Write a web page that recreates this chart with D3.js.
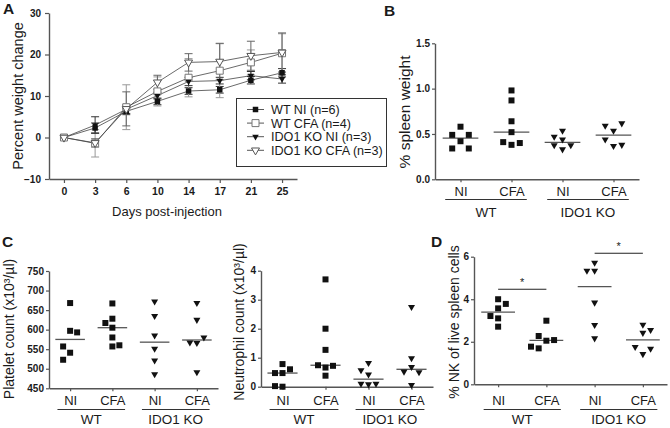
<!DOCTYPE html>
<html><head><meta charset="utf-8">
<script src="https://cdn.jsdelivr.net/npm/d3@7"></script>
<style>
body{margin:0;background:#fff}
svg{display:block}
text{font-family:"Liberation Sans",Arial,Helvetica,sans-serif;fill:#1a1a1a}
</style>
</head><body>
<svg id="c" width="670" height="428"></svg>
<script>
// ================= DATA =================
// Panel A: percent weight change
const days = ["0","3","6","10","14","17","21","25"];
const aTicks = [-10, 0, 10, 20, 30];
const seriesNames = ["WT NI (n=6)", "WT CFA (n=4)", "IDO1 KO NI (n=3)", "IDO1 KO CFA (n=3)"];
const wtNI   = [0, 2.3, 6.3, 8.7, 11.2, 11.5, 13.8, 15.6];
const wtCFA  = [0, -1.4, 7.3, 11.1, 14.4, 16.1, 18.1, 20.3];
const koNI   = [0, 3.0, 6.8, 10.1, 13.5, 13.7, 14.9, 14.1];
const koCFA  = [0, -1.3, 6.9, 13.3, 18.1, 18.3, 19.7, 20.5];
const wtNIerr  = [0, 1.2, 0.8, 0.8, 0.8, 0.8, 0.9, 1.0];
const wtCFAerr = [0, 3.3, 5.4, 3.5, 4.6, 6.5, 3.0, 4.7];
const koNIerr  = [0, 2.0, 1.0, 0.8, 1.0, 0.8, 1.0, 1.0];
const koCFAerr = [0, 1.0, 4.1, 1.7, 2.1, 4.4, 3.5, 4.7];

// Categories for scatter panels
const subLabels = ["NI", "CFA", "NI", "CFA"];
const groupLabels = ["WT", "IDO1 KO"];

// Panel B: % spleen weight
const bTicks = [0, 0.5, 1.0, 1.5];
const spleenWtNI  = [0.58, 0.42, 0.49, 0.49, 0.34, 0.34];
const spleenWtCFA = [0.98, 0.87, 0.64, 0.52, 0.38, 0.41, 0.40];
const spleenKoNI  = [0.536, 0.44, 0.33, 0.47, 0.375, 0.375];
const spleenKoCFA = [0.536, 0.367, 0.59, 0.617, 0.44, 0.38];

// Panel C (left): platelet count
const pTicks = [450, 500, 550, 600, 650, 700, 750];
const pltWtNI  = [668, 597, 541, 523, 593, 557];
const pltWtCFA = [667, 628, 580, 557, 605, 617, 560];
const pltKoNI  = [672, 635, 585, 551, 521, 486];
const pltKoCFA = [668, 625, 566, 491, 567, 580];

// Panel C (right): neutrophil count
const nTicks = [0, 1, 2, 3, 4];
const neuWtNI  = [0.78, 0.47, 0.47, 0.60, 0.0, 0.02];
const neuWtCFA = [3.7, 2.0, 1.27, 0.66, 0.74, 0.72, 0.38];
const neuKoNI  = [0.82, 0.57, 0.42, 0.08, 0.10, 0.10];
const neuKoCFA = [2.75, 0.98, 0.68, 0.06, 0.52, 0.50];

// Panel D: % NK of live spleen cells
const dTicks = [0, 2, 4, 6];
const nkWtNI  = [4.0, 3.57, 3.1, 2.71, 3.21, 3.78];
const nkWtCFA = [2.99, 2.05, 1.69, 2.08, 2.27, 1.77];
const nkKoNI  = [5.72, 5.34, 5.34, 3.84, 2.79, 2.16];
const nkKoCFA = [2.8, 2.42, 1.42, 1.75, 2.55, 1.67];
const nkSig = [{a: 0, b: 1, v: 4.47, label: "*"}, {a: 2, b: 3, v: 6.16, label: "*"}];

// ================= DRAWING =================
const svg = d3.select("#c");
const AX = "#555";

function styleAxis(sel){
  sel.select(".domain").attr("stroke", AX).attr("stroke-width", 1.4);
  sel.selectAll(".tick line").attr("stroke", AX).attr("stroke-width", 1.2);
  sel.selectAll(".tick text").style("font-size", "10px").style("font-weight", "bold")
     .style("font-family", "'Liberation Sans',Arial,sans-serif").attr("fill", "#1a1a1a");
}
function label(text, x, y, size, opts={}){
  const t = svg.append("text").attr("x", x).attr("y", y).style("font-size", size + "px")
    .attr("text-anchor", opts.anchor || "start").text(text);
  if (opts.bold) t.style("font-weight", "bold");
  return t;
}
function yLabel(text, cx, cy, size){
  svg.append("text").attr("transform", `translate(${cx},${cy}) rotate(-90)`)
    .attr("text-anchor", "middle").attr("dy", "0.35em").style("font-size", size + "px").text(text);
}
function symPath(kind, size){
  if (kind === "square") return d3.symbol(d3.symbolSquare, size * size)();
  return d3.symbol(d3.symbolTriangle, Math.sqrt(3) / 4 * size * size)();
}
function drawMarker(g, kind, cx, cy, size, fill, stroke, sw){
  const p = g.append("path").attr("d", symPath(kind, size))
    .attr("fill", fill).attr("stroke", stroke || "none").attr("stroke-width", sw || 0);
  p.attr("transform", kind === "square" ? `translate(${cx},${cy})` : `translate(${cx},${cy}) rotate(180)`);
  return p;
}
// greedy column-scatter arrangement (Prism-like)
function swarm(vals, y, thr){
  const placed = [], count = {};
  return vals.map(v => {
    const py = y(v);
    const free = s => placed.every(p => p.s !== s || Math.abs(p.py - py) >= thr);
    const cands = [0];
    for (let k = 1; k <= 3; k++){
      if ((count[k] || 0) < (count[-k] || 0)) cands.push(k, -k); else cands.push(-k, k);
    }
    const s = cands.find(free) ?? 0;
    placed.push({s, py}); count[s] = (count[s] || 0) + 1;
    return s;
  });
}

// ---------- Panel A ----------
(function(){
  const g = svg.append("g");
  const x = d3.scalePoint().domain(days).range([49, 297]).padding(0.48);
  const y = d3.scaleLinear().domain([-10, 30]).range([179, 13]);
  const ya = g.append("g").attr("transform", "translate(49,0)")
    .call(d3.axisLeft(y).tickValues(aTicks).tickSize(4).tickSizeOuter(0));
  styleAxis(ya);
  ya.selectAll(".tick text").attr("x", -8);
  const xa = g.append("g").attr("transform", "translate(0,179)")
    .call(d3.axisBottom(x).tickSize(4).tickSizeOuter(0));
  styleAxis(xa);
  xa.selectAll(".tick text").attr("y", 9).style("font-size", "10.5px");
  label("Days post-injection", 167, 216, 13, {anchor: "middle"});
  yLabel("Percent weight change", 18, 96, 14.5);
  label("A", 3, 14, 15.5, {bold: true});

  const series = [
    {v: wtNI,  e: wtNIerr,  kind: "square",   size: 5.5, fill: "#111", stroke: "#111", sw: 0, ec: "#333"},
    {v: wtCFA, e: wtCFAerr, kind: "square",   size: 7,   fill: "#fff", stroke: "#777", sw: 1, ec: "#999"},
    {v: koNI,  e: koNIerr,  kind: "triangle", size: 6.5, fill: "#111", stroke: "#111", sw: 0, ec: "#333"},
    {v: koCFA, e: koCFAerr, kind: "triangle", size: 8,   fill: "#fff", stroke: "#555", sw: 1, ec: "#666"}
  ];
  const line = d3.line().x((d, i) => x(days[i])).y(d => y(d));
  series.forEach(s => {
    g.append("path").attr("d", line(s.v)).attr("fill", "none").attr("stroke", "#444").attr("stroke-width", 0.8);
  });
  series.forEach(s => {
    s.v.forEach((v, i) => {
      if (!s.e[i]) return;
      const cx = x(days[i]);
      const y1 = y(v + s.e[i]), y0 = y(v - s.e[i]);
      g.append("line").attr("x1", cx).attr("x2", cx).attr("y1", y0).attr("y2", y1).attr("stroke", s.ec).attr("stroke-width", 1);
      [y0, y1].forEach(yy => g.append("line").attr("x1", cx - 4).attr("x2", cx + 4).attr("y1", yy).attr("y2", yy).attr("stroke", s.ec).attr("stroke-width", 1));
    });
  });
  series.forEach(s => {
    s.v.forEach((v, i) => drawMarker(g, s.kind, x(days[i]), y(v), s.size, s.fill, s.stroke, s.sw));
  });
  // legend
  g.append("rect").attr("x", 236.5).attr("y", 98.5).attr("width", 150).attr("height", 68)
    .attr("fill", "#fff").attr("stroke", "#333").attr("stroke-width", 1);
  series.forEach((s, i) => {
    const ly = 109.5 + i * 13.6;
    g.append("line").attr("x1", 247).attr("x2", 264).attr("y1", ly).attr("y2", ly).attr("stroke", "#444").attr("stroke-width", 0.9);
    drawMarker(g, s.kind, 255.5, ly, s.size, s.fill, s.stroke, s.sw);
    label(seriesNames[i], 271, ly + 4.4, 12.6);
  });
})();

// ---------- Scatter panels ----------
function scatter(o){
  const g = svg.append("g");
  const y = d3.scaleLinear().domain(o.domain).range([o.yB, o.yT]);
  const x = d3.scalePoint().domain(subLabels.map((d, i) => i)).range([o.x0, o.x1]).padding(0.5);
  const step = x.step();
  const ya = g.append("g").attr("transform", `translate(${o.x0},0)`)
    .call(d3.axisLeft(y).tickValues(o.ticks).tickFormat(o.fmt).tickSize(3).tickSizeOuter(0));
  styleAxis(ya);
  ya.selectAll(".tick text").attr("x", -5);
  const xa = g.append("g").attr("transform", `translate(0,${o.yB})`)
    .call(d3.axisBottom(x).tickSize(3).tickSizeOuter(0).tickFormat(i => subLabels[i]));
  styleAxis(xa);
  xa.selectAll(".tick text").attr("y", o.subY - o.yB).attr("dy", 0)
    .style("font-size", "13px").style("font-weight", "normal");
  groupLabels.forEach((gl, k) => {
    const c = (x(2 * k) + x(2 * k + 1)) / 2, hw = step * 0.8;
    g.append("line").attr("x1", c - hw).attr("x2", c + hw).attr("y1", o.ulY).attr("y2", o.ulY)
      .attr("stroke", "#333").attr("stroke-width", 1.1);
    label(gl, c, o.grpY, 13.5, {anchor: "middle"});
  });
  o.groups.forEach((vals, i) => {
    const kind = i < 2 ? "square" : "triangle";
    const slots = swarm(vals, y, o.thr);
    const cx = x(i);
    const med = d3.median(vals);
    g.append("line").attr("x1", cx - step * 0.35).attr("x2", cx + step * 0.35)
      .attr("y1", y(med)).attr("y2", y(med)).attr("stroke", "#555").attr("stroke-width", 1.3);
    vals.forEach((v, j) => drawMarker(g, kind, cx + slots[j] * o.dx, y(v), kind === "square" ? 6 : 7, "#111"));
  });
  (o.sig || []).forEach(s => {
    const yy = y(s.v);
    g.append("line").attr("x1", x(s.a)).attr("x2", x(s.b)).attr("y1", yy).attr("y2", yy)
      .attr("stroke", "#222").attr("stroke-width", 1.1);
    label(s.label, (x(s.a) + x(s.b)) / 2, yy - 3, 11, {anchor: "middle"});
  });
}

scatter({groups: [spleenWtNI, spleenWtCFA, spleenKoNI, spleenKoCFA], domain: [0, 1.5], ticks: bTicks,
  fmt: d3.format(".1f"), x0: 435, x1: 639, yB: 179.3, yT: 43.3, thr: 8, dx: 8.3,
  subY: 196, ulY: 199.5, grpY: 217});
label("B", 384, 16, 15.5, {bold: true});
yLabel("% spleen weight", 405, 112, 15.5);

scatter({groups: [pltWtNI, pltWtCFA, pltKoNI, pltKoCFA], domain: [450, 750], ticks: pTicks,
  fmt: d3.format("d"), x0: 49, x1: 218, yB: 388.3, yT: 271, thr: 8, dx: 7,
  subY: 405, ulY: 409.5, grpY: 424});
label("C", 2, 247, 15.5, {bold: true});
yLabel("Platelet count (x10³/µl)", 9, 329, 14);

scatter({groups: [neuWtNI, neuWtCFA, neuKoNI, neuKoCFA], domain: [0, 4], ticks: nTicks,
  fmt: d3.format("d"), x0: 261, x1: 433, yB: 386.7, yT: 270.7, thr: 8, dx: 7.5,
  subY: 405, ulY: 409.5, grpY: 424});
yLabel("Neutrophil count (x10³/µl)", 239, 322, 14);

scatter({groups: [nkWtNI, nkWtCFA, nkKoNI, nkKoCFA], domain: [0, 6], ticks: dTicks,
  fmt: d3.format("d"), x0: 474, x1: 667, yB: 384.3, yT: 256.7, thr: 8, dx: 7.7,
  subY: 405, ulY: 409.5, grpY: 424, sig: nkSig});
label("D", 431, 247, 15.5, {bold: true});
yLabel("% NK of live spleen cells", 454, 322, 14);
</script>
</body></html>
